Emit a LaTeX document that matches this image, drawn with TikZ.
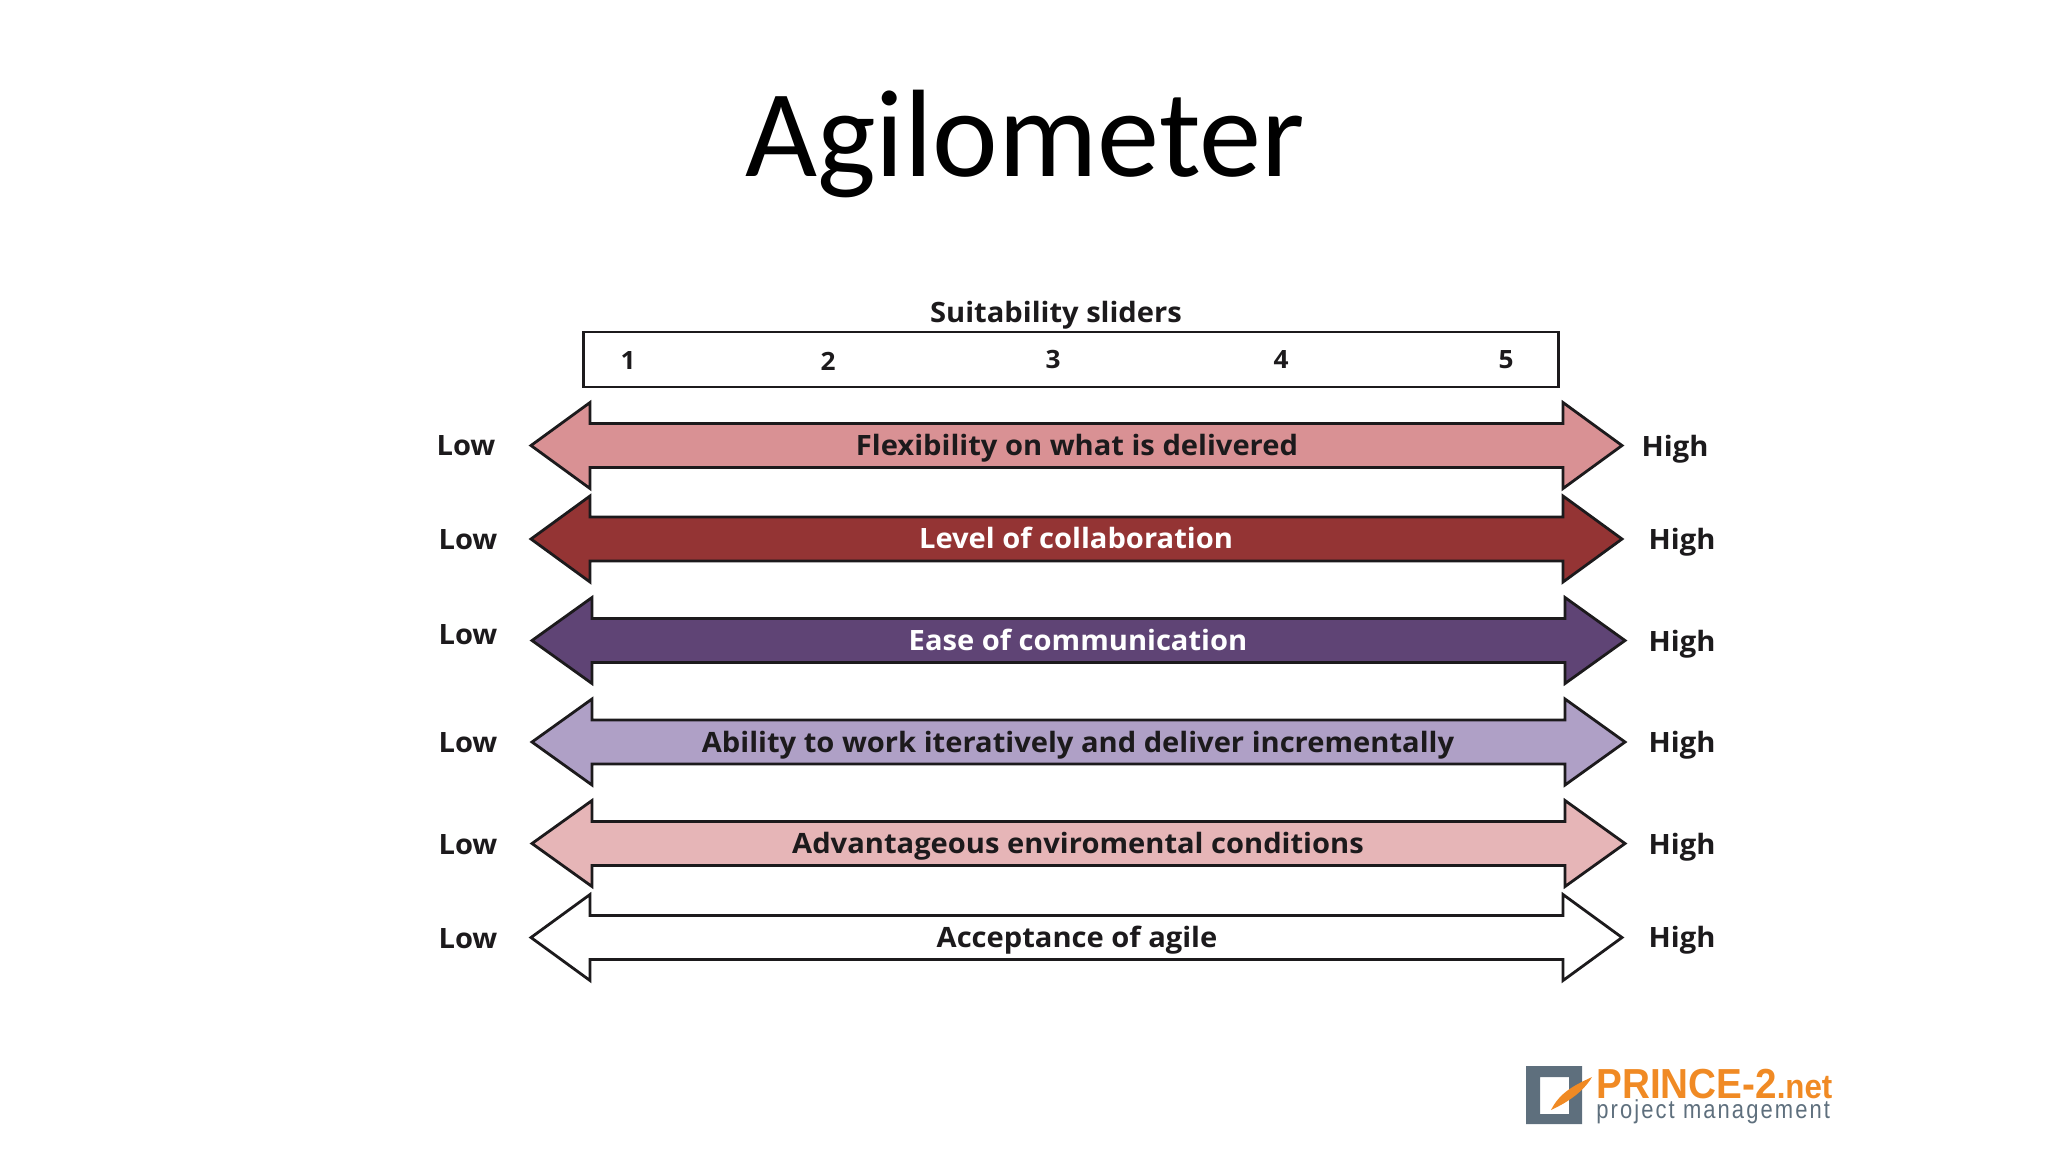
\documentclass[tikz,border=0pt]{standalone}
\usepackage{fontspec}
\setmainfont{Open Sans}
\newfontfamily\titlefont{Carlito}
\newfontfamily\labfont[FakeStretch=1.04]{Open Sans}
\newfontfamily\logofont[FakeStretch=0.92]{Liberation Sans}
\newfontfamily\logosub[FakeStretch=0.845,LetterSpace=8]{Liberation Sans}
\definecolor{ink}{HTML}{1C1A1C}
\definecolor{arrowA}{HTML}{D99194}
\definecolor{arrowB}{HTML}{943434}
\definecolor{arrowC}{HTML}{5F4475}
\definecolor{arrowD}{HTML}{AFA0C6}
\definecolor{arrowE}{HTML}{E6B5B7}
\definecolor{logoOrange}{HTML}{F08A24}
\definecolor{logoGrey}{HTML}{5E6F7D}
\tikzset{
  lab/.style={text=ink,inner sep=0pt,anchor=center,text height=11.5pt,text depth=2pt},
  barlabel/.style={lab,font=\labfont\bfseries\fontsize{14}{16}\selectfont},
  endlabel/.style={lab,font=\labfont\bfseries\fontsize{14}{16}\selectfont},
  numlabel/.style={lab,font=\labfont\bfseries\fontsize{12.6}{16}\selectfont},
  slider/.style={draw=ink,line width=1.4pt,line join=miter},
}
% #1 left tip, #2 left notch, #3 right notch, #4 right tip, #5 centre y, #6 half head, #7 half shaft, #8 fill
\newcommand{\slidebar}[8]{%
  \draw[slider,fill=#8] (#1,#5) -- (#2,#5-#6) -- (#2,#5-#7) -- (#3,#5-#7) -- (#3,#5-#6) -- (#4,#5)
    -- (#3,#5+#6) -- (#3,#5+#7) -- (#2,#5+#7) -- (#2,#5+#6) -- cycle;}
\begin{document}
\begin{tikzpicture}[x=0.5pt,y=-0.5pt]
\useasboundingbox (0,0) rectangle (2048,1152);
\node[inner sep=0pt,font=\titlefont\fontsize{62.2}{70}\selectfont,text=black] (title) at (1025,144) {Agilometer};

\node[barlabel] (head) at (1056,313) {Suitability sliders};
\node[draw=ink,line width=1.4pt,fill=white,minimum width=975pt*0.5,minimum height=55pt*0.5,inner sep=0pt] (scalebox) at (1071,359.5) {};
\node[numlabel] (n1) at (628,360) {1};
\node[numlabel] (n2) at (828,361) {2};
\node[numlabel] (n3) at (1053,359) {3};
\node[numlabel] (n4) at (1281,359) {4};
\node[numlabel] (n5) at (1506,359) {5};

\slidebar{531}{590}{1563}{1622}{445.5}{43}{22}{arrowA}
\slidebar{531}{590}{1563}{1622}{539}{43}{22}{arrowB}
\slidebar{532}{592}{1565}{1625}{640.5}{43}{22}{arrowC}
\slidebar{532}{592}{1565}{1625}{742}{43}{22}{arrowD}
\slidebar{532}{592}{1565}{1625}{843.5}{43}{22}{arrowE}
\slidebar{531}{590}{1563}{1622}{937.5}{43}{22}{white}

\node[barlabel] (b1) at (1077,446) {Flexibility on what is delivered};
\node[barlabel,text=white] (b2) at (1076,539) {Level of collaboration};
\node[barlabel,text=white] (b3) at (1078,641) {Ease of communication};
\node[barlabel] (b4) at (1078,743) {Ability to work iteratively and deliver incrementally};
\node[barlabel] (b5) at (1078,844) {Advantageous enviromental conditions};
\node[barlabel] (b6) at (1077,938) {Acceptance of agile};

\node[endlabel] (l1) at (466,446) {Low};
\node[endlabel] (l2) at (468,540) {Low};
\node[endlabel] (l3) at (468,635) {Low};
\node[endlabel] (l4) at (468,743) {Low};
\node[endlabel] (l5) at (468,845) {Low};
\node[endlabel] (l6) at (468,939) {Low};

\node[endlabel] (h1) at (1675,447) {High};
\node[endlabel] (h2) at (1682,540) {High};
\node[endlabel] (h3) at (1682,642) {High};
\node[endlabel] (h4) at (1682,743) {High};
\node[endlabel] (h5) at (1682,845) {High};
\node[endlabel] (h6) at (1682,938) {High};

% logo
\fill[logoGrey,even odd rule] (1526,1066) rectangle (1582,1124) (1540,1077) rectangle (1569,1114);
\fill[logoOrange] (1551,1110) .. controls (1560,1092) and (1575,1085) .. (1592,1077)
  .. controls (1583,1092) and (1568,1102) .. (1551,1110) -- cycle;
\node[inner sep=0pt,anchor=base west,text=logoOrange,text height=11pt,text depth=0pt,font=\logofont\bfseries\fontsize{21}{24}\selectfont] (logoA) at (1596,1098)
  {PRINCE-2{\fontsize{17}{18}\selectfont .net}};
\node[inner sep=0pt,anchor=base west,text=logoGrey,text height=7pt,text depth=2pt,font=\logosub\fontsize{13}{15}\selectfont] (logoB) at (1596,1118)
  {project management};
\end{tikzpicture}
\end{document}
